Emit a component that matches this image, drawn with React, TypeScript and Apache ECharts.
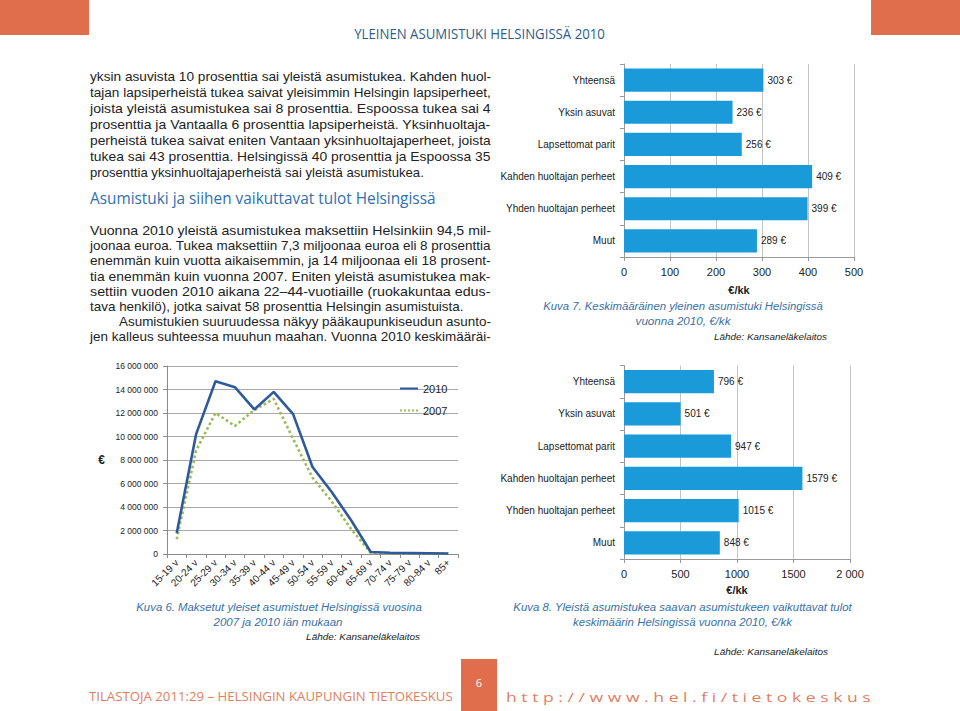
import React, { useEffect, useRef } from 'react';
import * as echarts from 'echarts';

// ---------- data ----------
const householdTypes = [
  'Yhteensä',
  'Yksin asuvat',
  'Lapsettomat parit',
  'Kahden huoltajan perheet',
  'Yhden huoltajan perheet',
  'Muut',
];
const avgSupport = [303, 236, 256, 409, 399, 289];
const avgIncome = [796, 501, 947, 1579, 1015, 848];

const ageGroups = [
  '15-19 v', '20-24 v', '25-29 v', '30-34 v', '35-39 v', '40-44 v', '45-49 v',
  '50-54 v', '55-59 v', '60-64 v', '65-69 v', '70-74 v', '75-79 v', '80-84 v', '85+',
];
const paid2010 = [
  1760000, 10200000, 14700000, 14200000, 12300000, 13800000, 11900000,
  7400000, 5250000, 2850000, 170000, 100000, 80000, 60000, 40000,
];
const paid2007 = [
  1250000, 8800000, 12000000, 10900000, 12250000, 13200000, 9800000,
  6500000, 4450000, 2100000, 100000, 70000, 50000, 40000, 30000,
];

const supportTicks = ['0', '100', '200', '300', '400', '500'];
const incomeTicks = ['0', '500', '1000', '1500', '2 000'];
const paidTicks = [
  '0', '2 000 000', '4 000 000', '6 000 000', '8 000 000',
  '10 000 000', '12 000 000', '14 000 000', '16 000 000',
];

const para1 = [
  'yksin asuvista 10 prosenttia sai yleistä asumistukea. Kahden huol-',
  'tajan lapsiperheistä tukea saivat yleisimmin Helsingin lapsiperheet,',
  'joista yleistä asumistukea sai 8 prosenttia. Espoossa tukea sai 4',
  'prosenttia ja Vantaalla 6 prosenttia lapsiperheistä. Yksinhuoltaja-',
  'perheistä tukea saivat eniten Vantaan yksinhuoltajaperheet, joista',
  'tukea sai 43 prosenttia. Helsingissä 40 prosenttia ja Espoossa 35',
  'prosenttia yksinhuoltajaperheistä sai yleistä asumistukea.',
];
const para2 = [
  'Vuonna 2010 yleistä asumistukea maksettiin Helsinkiin 94,5 mil-',
  'joonaa euroa. Tukea maksettiin 7,3 miljoonaa euroa eli 8 prosenttia',
  'enemmän kuin vuotta aikaisemmin, ja 14 miljoonaa eli 18 prosent-',
  'tia enemmän kuin vuonna 2007. Eniten yleistä asumistukea mak-',
  'settiin vuoden 2010 aikana 22–44-vuotiaille (ruokakuntaa edus-',
  'tava henkilö), jotka saivat 58 prosenttia Helsingin asumistuista.',
  'Asumistukien suuruudessa näkyy pääkaupunkiseudun asunto-',
  'jen kalleus suhteessa muuhun maahan. Vuonna 2010 keskimääräi-',
];

// ---------- helpers ----------
let measureCtx: CanvasRenderingContext2D | null = null;
function measure(text: string, font: string): number {
  if (!measureCtx) measureCtx = document.createElement('canvas').getContext('2d');
  measureCtx!.font = font;
  return measureCtx!.measureText(text).width;
}

type TOpts = {
  size: number;
  family: string;
  color: string;
  weight?: string;
  italic?: boolean;
  align?: 'left' | 'center' | 'right';
};

function fitText(text: string, x: number, y: number, width: number | null, o: TOpts) {
  const fam = o.family;
  const font = `${o.italic ? 'italic' : 'normal'} ${o.weight || 'normal'} ${o.size}px "${fam}"`;
  let sx = 1;
  if (width) {
    const w = measure(text, font);
    if (w > 0) sx = width / w;
  }
  const align = o.align || 'left';
  return {
    type: 'text',
    x,
    y,
    scaleX: sx,
    silent: true,
    style: {
      text,
      fill: o.color,
      fontSize: o.size,
      fontFamily: fam,
      fontWeight: o.weight || 'normal',
      fontStyle: o.italic ? 'italic' : 'normal',
      align,
      textAlign: align,
      verticalAlign: 'middle',
      textVerticalAlign: 'middle',
    },
  };
}

const BODY = 'Liberation Sans';
const AX = 'Liberation Sans';
const ORANGE = '#e06e4c';
const CAPTION = '#3a70a6';
const BAR = '#1a9ad8';
const FOOT = '#e0805f';

function buildGraphics() {
  const g: any[] = [];
  // header boxes
  g.push({ type: 'rect', shape: { x: 0, y: 0, width: 89, height: 35 }, style: { fill: ORANGE }, silent: true });
  g.push({ type: 'rect', shape: { x: 871, y: 0, width: 89, height: 35 }, style: { fill: ORANGE }, silent: true });
  g.push(fitText('YLEINEN ASUMISTUKI HELSINGISSÄ 2010', 479.5, 33, 251, {
    size: 15, family: 'Open Sans', color: '#2c5c8c', align: 'center',
  }));

  // paragraph 1
  para1.forEach((line, i) => {
    const last = i === para1.length - 1;
    g.push(fitText(line, 90, 77 + 16 * i, last ? 334 : 401, { size: 12, family: BODY, color: '#222' }));
  });
  // heading
  g.push(fitText('Asumistuki ja siihen vaikuttavat tulot Helsingissä', 90, 198, 346, {
    size: 17, family: 'Open Sans', color: '#2f6fae',
  }));
  // paragraph 2
  para2.forEach((line, i) => {
    let x = 90;
    let w = 401;
    if (i === 5) w = 374;
    if (i === 6) { x = 119; w = 372; }
    g.push(fitText(line, x, 231 + 15.15 * i, w, { size: 12, family: BODY, color: '#222' }));
  });

  // captions
  const cap = { size: 11, family: BODY, color: CAPTION, italic: true, align: 'center' as const };
  const src = { size: 9.5, family: BODY, color: '#222', italic: true, align: 'right' as const };
  g.push(fitText('Kuva 7. Keskimääräinen yleinen asumistuki Helsingissä', 683, 306, 280, cap));
  g.push(fitText('vuonna 2010, €/kk', 683, 321, 95, cap));
  g.push(fitText('Lähde: Kansaneläkelaitos', 827, 337, 113, src));

  g.push(fitText('Kuva 6. Maksetut yleiset asumistuet Helsingissä vuosina', 279, 607, 286, cap));
  g.push(fitText('2007 ja 2010 iän mukaan', 278, 622, 129, cap));
  g.push(fitText('Lähde: Kansaneläkelaitos', 420, 637, 114, src));

  g.push(fitText('Kuva 8. Yleistä asumistukea saavan asumistukeen vaikuttavat tulot', 682.5, 607, 339, cap));
  g.push(fitText('keskimäärin Helsingissä vuonna 2010, €/kk', 682.5, 622, 219, cap));
  g.push(fitText('Lähde: Kansaneläkelaitos', 828, 652, 114, src));

  // footer
  g.push({ type: 'rect', shape: { x: 461, y: 659, width: 36, height: 52 }, style: { fill: ORANGE }, silent: true });
  g.push(fitText('6', 479, 682, null, { size: 11, family: 'Open Sans', color: '#ffffff', align: 'center' }));
  g.push(fitText('TILASTOJA 2011:29 – HELSINGIN KAUPUNGIN TIETOKESKUS', 89, 697, 364, {
    size: 12, family: 'Open Sans', color: FOOT,
  }));
  g.push(fitText('h t t p : / / w w w . h e l . f i / t i e t o k e s k u s', 506, 697, 365, {
    size: 12, family: 'Open Sans', color: FOOT,
  }));
  return g;
}

function barAxes(gridIndex: number, max: number, interval: number, ticks: string[], nameGap: number) {
  const x = {
    gridIndex,
    type: 'value',
    min: 0,
    max,
    interval,
    axisLine: { show: true, lineStyle: { color: '#9a9a9a', width: 1 } },
    axisTick: { show: true, length: 4, lineStyle: { color: '#9a9a9a' } },
    splitLine: { show: true, lineStyle: { color: '#c4c4c4', width: 1 } },
    axisLabel: {
      fontSize: 11, color: '#222', fontFamily: AX, margin: 9,
      formatter: (_v: number, i: number) => ticks[i],
    },
    name: '€/kk',
    nameLocation: 'middle',
    nameGap,
    nameTextStyle: { fontSize: 11, fontWeight: 'bold', color: '#222', fontFamily: AX },
  };
  const y = {
    gridIndex,
    type: 'category',
    inverse: true,
    data: householdTypes,
    axisLine: { show: true, lineStyle: { color: '#9a9a9a', width: 1 } },
    axisTick: { show: true, length: 4, lineStyle: { color: '#9a9a9a' } },
    axisLabel: { fontSize: 10, color: '#222', fontFamily: AX, margin: 9 },
    splitLine: { show: false },
  };
  return { x, y };
}

export default function App() {
  const ref = useRef<HTMLDivElement>(null);
  useEffect(() => {
    if (!ref.current) return;
    const chart = echarts.init(ref.current, null, { renderer: 'svg' });
    const a1 = barAxes(0, 500, 100, supportTicks, 27);
    const a3 = barAxes(1, 2000, 500, incomeTicks, 25);

    const option: any = {
      animation: false,
      backgroundColor: '#ffffff',
      textStyle: { fontFamily: AX },
      grid: [
        { left: 624, top: 64, width: 230, height: 193 },
        { left: 624, top: 365.5, width: 226, height: 193.5 },
        { left: 167, top: 366, width: 291, height: 188 },
      ],
      legend: {
        data: ['2010', '2007'],
        orient: 'vertical',
        left: 394,
        top: 378,
        itemWidth: 18,
        itemHeight: 10,
        itemGap: 11,
        itemStyle: { opacity: 0, borderWidth: 0 },
        textStyle: { fontSize: 11, color: '#222', fontFamily: AX },
      },
      xAxis: [
        a1.x,
        a3.x,
        {
          gridIndex: 2,
          type: 'category',
          data: ageGroups,
          boundaryGap: true,
          axisLine: { show: true, lineStyle: { color: '#8c8c8c' } },
          axisTick: { show: true, length: 4, interval: 0, lineStyle: { color: '#8c8c8c' } },
          axisLabel: { rotate: 45, interval: 0, fontSize: 10, color: '#222', fontFamily: AX, margin: 7 },
        },
      ],
      yAxis: [
        a1.y,
        a3.y,
        {
          gridIndex: 2,
          type: 'value',
          min: 0,
          max: 16000000,
          interval: 2000000,
          axisLine: { show: true, lineStyle: { color: '#8c8c8c' } },
          axisTick: { show: true, length: 4, lineStyle: { color: '#8c8c8c' } },
          splitLine: { show: true, lineStyle: { color: '#a8a8a8' } },
          axisLabel: {
            fontSize: 8.5, color: '#222', fontFamily: AX, margin: 9,
            formatter: (_v: number, i: number) => paidTicks[i],
          },
          name: '€',
          nameLocation: 'middle',
          nameRotate: 0,
          nameGap: 62,
          nameTextStyle: { fontSize: 12, fontWeight: 'bold', color: '#222', fontFamily: AX },
        },
      ],
      series: [
        {
          type: 'bar',
          xAxisIndex: 0,
          yAxisIndex: 0,
          data: avgSupport,
          barCategoryGap: '28%',
          itemStyle: { color: BAR },
          label: {
            show: true, position: 'right', distance: 4, fontSize: 10, color: '#222', fontFamily: AX,
            formatter: (p: any) => p.value + ' €',
          },
        },
        {
          type: 'bar',
          xAxisIndex: 1,
          yAxisIndex: 1,
          data: avgIncome,
          barCategoryGap: '28%',
          itemStyle: { color: BAR },
          label: {
            show: true, position: 'right', distance: 4, fontSize: 10, color: '#222', fontFamily: AX,
            formatter: (p: any) => p.value + ' €',
          },
        },
        {
          name: '2010',
          type: 'line',
          xAxisIndex: 2,
          yAxisIndex: 2,
          data: paid2010,
          symbol: 'none',
          showSymbol: false,
          lineStyle: { color: '#2e5a9c', width: 2.6 },
          itemStyle: { color: '#2e5a9c' },
          z: 3,
        },
        {
          name: '2007',
          type: 'line',
          xAxisIndex: 2,
          yAxisIndex: 2,
          data: paid2007,
          symbol: 'none',
          showSymbol: false,
          lineStyle: { color: '#9bbb59', width: 2.6, type: 'dotted' },
          itemStyle: { color: '#9bbb59' },
          z: 2,
        },
      ],
      graphic: { elements: buildGraphics() },
    };
    chart.setOption(option);
    return () => chart.dispose();
  }, []);

  return (
    <div
      ref={ref}
      style={{ position: 'absolute', left: 0, top: 0, width: 960, height: 711, background: '#fff' }}
    />
  );
}
